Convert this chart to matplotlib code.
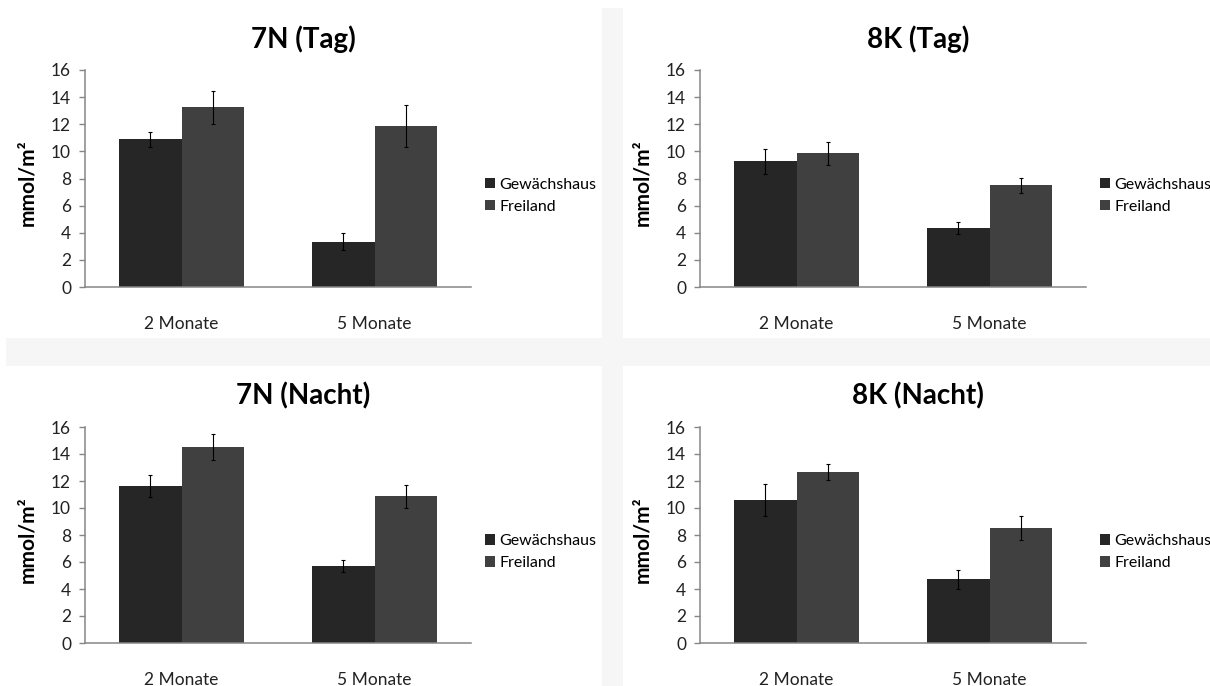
import matplotlib
matplotlib.use("Agg")
import matplotlib.pyplot as plt
from matplotlib.patches import Rectangle
import numpy as np

plt.rcParams['font.family'] = ['Lato', 'DejaVu Sans']

categories = ['2 Monate', '5 Monate']
series_names = ['Gewächshaus', 'Freiland']
titles = ['7N (Tag)', '8K (Tag)', '7N (Nacht)', '8K (Nacht)']

gew_7n_tag = [10.9, 3.35]
gew_7n_tag_err = [0.55, 0.63]
fre_7n_tag = [13.25, 11.87]
fre_7n_tag_err = [1.2, 1.53]

gew_8k_tag = [9.26, 4.36]
gew_8k_tag_err = [0.9, 0.45]
fre_8k_tag = [9.85, 7.49]
fre_8k_tag_err = [0.83, 0.53]

gew_7n_nacht = [11.62, 5.71]
gew_7n_nacht_err = [0.84, 0.43]
fre_7n_nacht = [14.52, 10.88]
fre_7n_nacht_err = [0.95, 0.86]

gew_8k_nacht = [10.58, 4.73]
gew_8k_nacht_err = [1.2, 0.7]
fre_8k_nacht = [12.68, 8.54]
fre_8k_nacht_err = [0.57, 0.88]

panels = [
    (gew_7n_tag, gew_7n_tag_err, fre_7n_tag, fre_7n_tag_err),
    (gew_8k_tag, gew_8k_tag_err, fre_8k_tag, fre_8k_tag_err),
    (gew_7n_nacht, gew_7n_nacht_err, fre_7n_nacht, fre_7n_nacht_err),
    (gew_8k_nacht, gew_8k_nacht_err, fre_8k_nacht, fre_8k_nacht_err),
]

W, H = 1210, 686
fig = plt.figure(figsize=(W / 100, H / 100), dpi=100)
fig.patch.set_facecolor('white')

# light gray gaps between the four chart areas
gap = '#f6f6f6'
fig.patches.append(Rectangle((602 / W, 0), 21 / W, 1 - 8 / H, transform=fig.transFigure,
                             facecolor=gap, edgecolor='none', zorder=0))
fig.patches.append(Rectangle((6 / W, 1 - 366 / H), 1, 28 / H, transform=fig.transFigure,
                             facecolor=gap, edgecolor='none', zorder=0))

# axes boxes in pixels: left, y of zero line, y of 16 line
boxes = [(85, 287, 70), (700, 287, 70), (85, 643, 427), (700, 643, 427)]
ax_w = 386

dark = '#262626'
light = '#404040'
axis_col = '#868686'
x = np.arange(len(categories))
bw = 0.325

for (left, y0, y16), title, (g, ge, f, fe) in zip(boxes, titles, panels):
    ax = fig.add_axes([left / W, 1 - y0 / H, ax_w / W, (y0 - y16) / H])
    ax.set_facecolor('none')
    ek = dict(ecolor='black', elinewidth=0.8, capsize=1.3, capthick=0.8)
    ax.bar(x - bw / 2, g, bw, yerr=ge, color=dark, label=series_names[0], error_kw=ek, zorder=2)
    ax.bar(x + bw / 2, f, bw, yerr=fe, color=light, label=series_names[1], error_kw=ek, zorder=2)

    ax.set_xlim(-0.5, 1.5)
    ax.set_ylim(0, 16)
    ax.set_yticks(range(0, 17, 2))
    ax.set_xticks(x)
    ax.set_xticklabels(categories, fontsize=12.5, color='#222222')
    ax.tick_params(axis='x', length=0, pad=21)
    ax.tick_params(axis='y', length=4, width=1, color=axis_col, labelsize=12.5,
                   labelcolor='#222222', pad=6, direction='out')
    for s in ['top', 'right']:
        ax.spines[s].set_visible(False)
    for s in ['left', 'bottom']:
        ax.spines[s].set_color(axis_col)
        ax.spines[s].set_linewidth(1.1)

    ax.text(-0.15, 0.48, 'mmol/m²', transform=ax.transAxes, rotation=90,
            ha='center', va='center', fontsize=15, fontweight='bold', color='black')
    ax.text(0.565, 1.143, title, transform=ax.transAxes, ha='center', va='center',
            fontsize=20, fontweight='bold', color='black')

    ax.legend(loc='center left', bbox_to_anchor=(1.036, 0.42), frameon=False,
              fontsize=11.5, handlelength=0.62, handleheight=0.62, handletextpad=0.3,
              labelspacing=0.5, borderpad=0, borderaxespad=0)

fig.savefig('out.png', dpi=100, facecolor=fig.get_facecolor())
